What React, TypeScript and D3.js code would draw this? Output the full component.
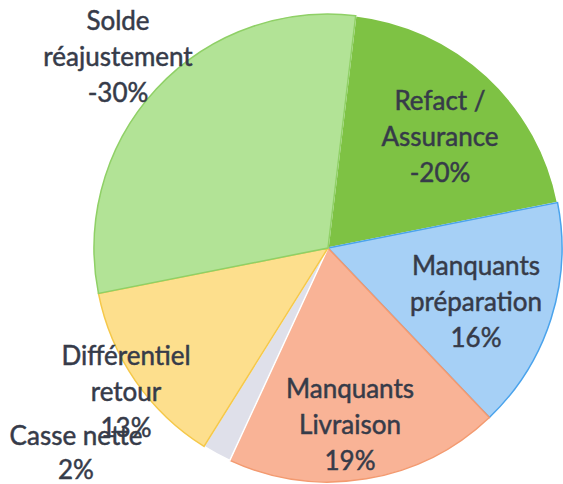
import React from "react";
import * as d3 from "d3";

const categories = [
  "Refact / Assurance",
  "Manquants préparation",
  "Manquants Livraison",
  "Casse nette",
  "Différentiel retour",
  "Solde réajustement",
];
const values = [20, 16, 19, 2, 13, 30];
const valueLabels = ["-20%", "16%", "19%", "2%", "13%", "-30%"];
const labelLines = [
  ["Refact /", "Assurance"],
  ["Manquants", "préparation"],
  ["Manquants", "Livraison"],
  ["Casse nette"],
  ["Différentiel", "retour"],
  ["Solde", "réajustement"],
];
const colors = ["#7ec244", "#a6d0f6", "#f9b396", "#dfe0ea", "#fddf8d", "#b2e396"];
const strokes = ["#ffffff", "#4aa3ec", "#f39a70", "#ffffff", "#f5c84a", "#8fd066"];

// layout: center of first label line (page pixels)
const labelPos: [number, number][] = [
  [440, 103],
  [476, 268],
  [350, 391],
  [76, 438],
  [126, 358],
  [118, 23],
];

export default function App() {
  const W = 563, H = 484;
  const cx = 328, cy = 248, r = 234;
  const startOffset = (6.8 * Math.PI) / 180;
  const pie = d3.pie<number>().sort(null).startAngle(startOffset).endAngle(startOffset + 2 * Math.PI);
  const arcs = pie(values);
  const arc = d3.arc<d3.PieArcDatum<number>>().innerRadius(0).outerRadius(r);
  const fs = 26;
  const lh = 36;
  return (
    <svg width={W} height={H} style={{ position: "absolute", left: 0, top: 0, background: "#fff" }}>
      <g transform={`translate(${cx},${cy})`}>
        {arcs.map((a, i) => (
          <path key={i} d={arc(a) || ""} fill={colors[i]} stroke={strokes[i]} strokeWidth={1.5} />
        ))}
      </g>
      {arcs.map((a, i) => {
        const [x, y0] = labelPos[i];
        const lines = [...labelLines[i], valueLabels[i]];
        const step = i === 3 ? 34 : lh;
        return (
          <text
            key={i}
            textAnchor="middle"
            fontFamily="Lato, 'Open Sans', sans-serif"
            fontSize={fs}
            fill="#363b49"
            stroke="#363b49"
            strokeWidth={0.5}
            dominantBaseline="middle"
          >
            {lines.map((l, j) => (
              <tspan key={j} x={x} y={y0 + j * step}>
                {l}
              </tspan>
            ))}
          </text>
        );
      })}
    </svg>
  );
}
